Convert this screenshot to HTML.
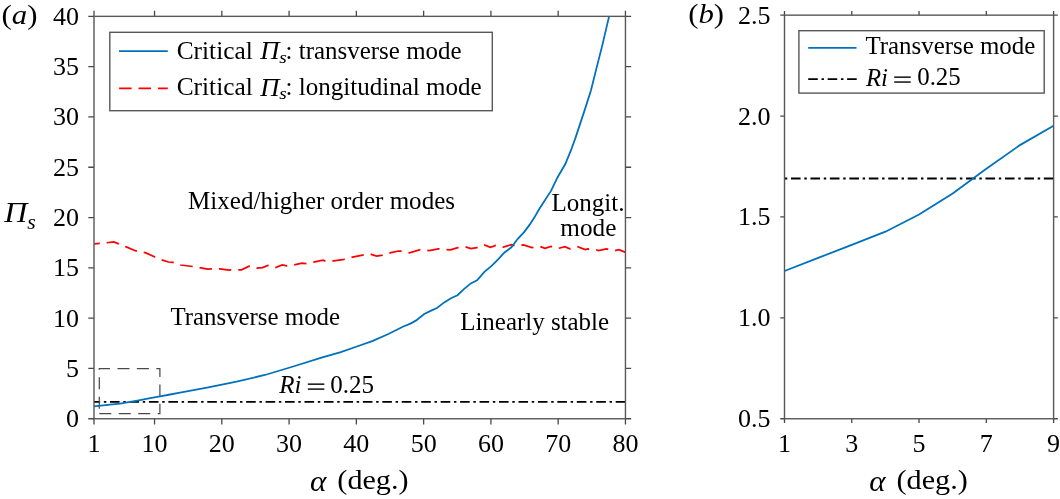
<!DOCTYPE html><html><head><meta charset="utf-8"><style>html,body{margin:0;padding:0;background:#fff;}svg{display:block;will-change:transform;}text{font-family:"Liberation Serif",serif;fill:#000;}</style></head><body>
<svg width="1060" height="499" viewBox="0 0 1060 499">
<rect width="1060" height="499" fill="#fff"/>
<clipPath id="ca"><rect x="94.0" y="16.35" width="531.45" height="402.4"/></clipPath>
<g clip-path="url(#ca)">
<line x1="94.0" y1="401.9" x2="625.45" y2="401.9" stroke="#000" stroke-width="1.85" stroke-dasharray="9.6 3.7 2.45 3.7" stroke-dashoffset="3.45"/>
<path d="M99.3,413.6 H159.9 V368.5 H99.3 Z" fill="none" stroke="#4a4a4a" stroke-width="1.25" stroke-dasharray="12 7.45"/>
<polyline points="94.20,243.90 100.60,243.40 113.80,242.00 118.70,243.90 126.20,246.90 135.30,250.70 145.80,252.90 154.90,257.00 162.50,260.20 168.50,262.00 173.00,262.40 180.60,265.00 192.60,266.50 207.70,269.10 219.80,268.80 228.90,270.00 241.50,269.90 249.10,266.10 256.60,268.00 262.60,267.60 267.90,265.50 275.50,267.60 282.30,265.00 286.80,265.80 294.30,264.80 301.90,263.10 306.40,263.50 313.60,262.20 323.00,260.20 324.50,260.90 333.60,260.80 344.20,259.30 352.50,257.20 363.80,254.90 371.30,254.40 376.60,256.20 382.60,255.20 391.00,252.60 398.50,251.00 401.30,251.00 409.60,252.90 420.20,249.60 429.20,250.70 438.30,248.80 450.40,249.90 457.90,247.60 465.50,246.90 470.80,248.70 476.80,247.60 484.30,244.90 490.40,247.30 495.70,245.40 503.20,247.20 511.50,244.60 515.30,245.80 523.60,244.90 531.90,247.60 540.20,246.60 545.00,248.40 551.00,246.40 558.20,248.40 564.90,246.60 569.70,248.80 577.50,246.60 585.30,249.60 587.70,249.00 595.50,249.60 598.50,250.50 606.30,249.00 614.10,250.80 618.90,249.60 625.60,252.40" fill="none" stroke="#ff0000" stroke-width="1.75" stroke-dasharray="12.5 6.95" stroke-dashoffset="6.9"/>
<polyline points="94.00,406.40 110.00,404.60 120.10,403.60 130.10,401.90 140.10,400.10 150.10,398.10 160.10,396.30 170.20,394.50 180.00,392.70 208.30,387.30 236.60,381.60 264.90,375.00 293.20,366.50 321.50,357.60 340.80,352.10 356.90,346.50 372.90,340.90 388.90,333.70 403.30,326.50 410.50,323.60 416.20,320.40 424.20,314.00 430.60,310.90 437.00,308.00 444.20,302.40 451.40,298.00 457.50,295.20 464.20,288.80 470.80,283.40 477.10,280.30 484.40,271.80 491.60,265.90 497.90,259.60 504.20,252.70 511.40,247.30 517.80,238.80 524.10,232.10 529.50,224.90 534.00,218.10 539.40,208.70 551.00,190.90 557.60,177.20 565.30,164.00 570.80,150.70 575.20,138.60 579.60,125.40 584.00,112.10 591.00,90.20 596.00,70.10 602.10,46.10 609.10,16.40" fill="none" stroke="#0072bd" stroke-width="1.8"/>
</g>
<path d="M88.3,418.75H94.0M625.45,418.75H631.1500000000001M88.3,368.45H94.0M625.45,368.45H631.1500000000001M88.3,318.15H94.0M625.45,318.15H631.1500000000001M88.3,267.85H94.0M625.45,267.85H631.1500000000001M88.3,217.55H94.0M625.45,217.55H631.1500000000001M88.3,167.25H94.0M625.45,167.25H631.1500000000001M88.3,116.95H94.0M625.45,116.95H631.1500000000001M88.3,66.65H94.0M625.45,66.65H631.1500000000001M88.3,16.35H94.0M625.45,16.35H631.1500000000001M94.00,418.75V424.45M94.00,10.650000000000002V16.35M154.54,418.75V424.45M154.54,10.650000000000002V16.35M221.82,418.75V424.45M221.82,10.650000000000002V16.35M289.09,418.75V424.45M289.09,10.650000000000002V16.35M356.36,418.75V424.45M356.36,10.650000000000002V16.35M423.63,418.75V424.45M423.63,10.650000000000002V16.35M490.91,418.75V424.45M490.91,10.650000000000002V16.35M558.18,418.75V424.45M558.18,10.650000000000002V16.35M625.45,418.75V424.45M625.45,10.650000000000002V16.35" stroke="#484848" stroke-width="1.3" fill="none"/>
<rect x="94.0" y="16.35" width="531.45" height="402.4" fill="none" stroke="#585858" stroke-width="1.4"/>
<rect x="109.8" y="32.3" width="382.5" height="78.4" fill="#fff" stroke="#585858" stroke-width="1.4"/>
<line x1="119" y1="51.1" x2="167.8" y2="51.1" stroke="#0072bd" stroke-width="1.8"/>
<line x1="119.1" y1="88.4" x2="167.8" y2="88.4" stroke="#ff0000" stroke-width="1.75" stroke-dasharray="12.5 6.95"/>
<clipPath id="cb"><rect x="784.5" y="15.15" width="269.0999999999999" height="403.6"/></clipPath>
<g clip-path="url(#cb)">
<line x1="784.5" y1="178.45" x2="1053.6" y2="178.45" stroke="#000" stroke-width="1.85" stroke-dasharray="9.6 3.7 2.45 3.7" stroke-dashoffset="12.95"/>
<polyline points="784.50,271.03 818.14,257.92 851.77,244.80 885.41,231.68 919.05,214.53 952.69,193.54 986.32,168.72 1019.96,145.11 1053.60,125.74" fill="none" stroke="#0072bd" stroke-width="1.8"/>
</g>
<path d="M780.3,418.75H784.5M1053.6,418.75H1057.8M780.3,317.85H784.5M1053.6,317.85H1057.8M780.3,216.95H784.5M1053.6,216.95H1057.8M780.3,116.05H784.5M1053.6,116.05H1057.8M780.3,15.15H784.5M1053.6,15.15H1057.8M784.50,418.75V422.95M784.50,10.95V15.15M851.77,418.75V422.95M851.77,10.95V15.15M919.05,418.75V422.95M919.05,10.95V15.15M986.32,418.75V422.95M986.32,10.95V15.15M1053.60,418.75V422.95M1053.60,10.95V15.15" stroke="#484848" stroke-width="1.3" fill="none"/>
<rect x="784.5" y="15.15" width="269.0999999999999" height="403.6" fill="none" stroke="#585858" stroke-width="1.4"/>
<rect x="798.9" y="30.7" width="245.3" height="62.4" fill="#fff" stroke="#585858" stroke-width="1.4"/>
<line x1="808.2" y1="47.8" x2="856.5" y2="47.8" stroke="#0072bd" stroke-width="1.8"/>
<line x1="808.2" y1="79.1" x2="856.7" y2="79.1" stroke="#000" stroke-width="1.85" stroke-dasharray="9.6 3.7 2.45 3.7"/>
<rect x="307.80" y="383.45" width="16.5" height="1.4" fill="#000"/>
<rect x="307.80" y="388.40" width="16.5" height="1.4" fill="#000"/>
<rect x="894.20" y="76.45" width="16.5" height="1.4" fill="#000"/>
<rect x="894.20" y="81.35" width="16.5" height="1.4" fill="#000"/>
<text x="1.63" y="24.27" font-size="27" textLength="35.89" lengthAdjust="spacingAndGlyphs">(<tspan font-style="italic">a</tspan>)</text>
<text x="688.15" y="23.40" font-size="27" textLength="35.87" lengthAdjust="spacingAndGlyphs">(<tspan font-style="italic">b</tspan>)</text>
<text x="4.18" y="221.50" font-size="30" textLength="22.99" lengthAdjust="spacingAndGlyphs"><tspan font-style="italic">Π</tspan></text>
<text x="27.17" y="228.50" font-size="20" textLength="8.46" lengthAdjust="spacingAndGlyphs"><tspan font-style="italic">s</tspan></text>
<text x="176.73" y="58.50" font-size="25" textLength="75.98" lengthAdjust="spacingAndGlyphs">Critical</text>
<text x="176.73" y="94.50" font-size="25" textLength="75.98" lengthAdjust="spacingAndGlyphs">Critical</text>
<text x="260.26" y="58.90" font-size="25" textLength="19.16" lengthAdjust="spacingAndGlyphs"><tspan font-style="italic">Π</tspan></text>
<text x="260.26" y="95.90" font-size="25" textLength="19.16" lengthAdjust="spacingAndGlyphs"><tspan font-style="italic">Π</tspan></text>
<text x="279.31" y="63.19" font-size="17" textLength="7.52" lengthAdjust="spacingAndGlyphs"><tspan font-style="italic">s</tspan></text>
<text x="279.31" y="99.19" font-size="17" textLength="7.52" lengthAdjust="spacingAndGlyphs"><tspan font-style="italic">s</tspan></text>
<text x="285.58" y="59.48" font-size="25" textLength="176.01" lengthAdjust="spacingAndGlyphs">: transverse mode</text>
<text x="285.47" y="94.50" font-size="25" textLength="196.24" lengthAdjust="spacingAndGlyphs">: longitudinal mode</text>
<text x="188.09" y="208.50" font-size="25" textLength="266.92" lengthAdjust="spacingAndGlyphs">Mixed/higher order modes</text>
<text x="551.38" y="210.50" font-size="25" textLength="73.04" lengthAdjust="spacingAndGlyphs">Longit.</text>
<text x="560.35" y="235.95" font-size="25" textLength="56.02" lengthAdjust="spacingAndGlyphs">mode</text>
<text x="170.40" y="324.60" font-size="25" textLength="169.66" lengthAdjust="spacingAndGlyphs">Transverse mode</text>
<text x="460.18" y="329.80" font-size="25" textLength="148.92" lengthAdjust="spacingAndGlyphs">Linearly stable</text>
<text x="865.43" y="53.70" font-size="25" textLength="169.85" lengthAdjust="spacingAndGlyphs">Transverse mode</text>
<text x="279.23" y="393.20" font-size="25" textLength="22.20" lengthAdjust="spacingAndGlyphs"><tspan font-style="italic">Ri</tspan></text>
<text x="330.17" y="392.90" font-size="25" textLength="43.85" lengthAdjust="spacingAndGlyphs">0.25</text>
<text x="865.94" y="86.30" font-size="25" textLength="22.01" lengthAdjust="spacingAndGlyphs"><tspan font-style="italic">Ri</tspan></text>
<text x="917.21" y="85.00" font-size="25" textLength="43.56" lengthAdjust="spacingAndGlyphs">0.25</text>
<text x="309.95" y="491.30" font-size="28.5" textLength="16.46" lengthAdjust="spacingAndGlyphs"><tspan font-style="italic">α</tspan></text>
<text x="337.39" y="489.38" font-size="28" textLength="71.11" lengthAdjust="spacingAndGlyphs">(deg.)</text>
<text x="869.35" y="491.30" font-size="28.5" textLength="16.31" lengthAdjust="spacingAndGlyphs"><tspan font-style="italic">α</tspan></text>
<text x="896.48" y="489.43" font-size="28" textLength="71.31" lengthAdjust="spacingAndGlyphs">(deg.)</text>
<text x="78.9" y="427.25" font-size="26" text-anchor="end">0</text>
<text x="78.9" y="376.95" font-size="26" text-anchor="end">5</text>
<text x="78.9" y="326.65" font-size="26" text-anchor="end">10</text>
<text x="78.9" y="276.35" font-size="26" text-anchor="end">15</text>
<text x="78.9" y="226.05" font-size="26" text-anchor="end">20</text>
<text x="78.9" y="175.75" font-size="26" text-anchor="end">25</text>
<text x="78.9" y="125.45" font-size="26" text-anchor="end">30</text>
<text x="78.9" y="75.15" font-size="26" text-anchor="end">35</text>
<text x="78.9" y="24.85" font-size="26" text-anchor="end">40</text>
<text x="94.00" y="451.5" font-size="26" text-anchor="middle">1</text>
<text x="154.54" y="451.5" font-size="26" text-anchor="middle">10</text>
<text x="221.82" y="451.5" font-size="26" text-anchor="middle">20</text>
<text x="289.09" y="451.5" font-size="26" text-anchor="middle">30</text>
<text x="356.36" y="451.5" font-size="26" text-anchor="middle">40</text>
<text x="423.63" y="451.5" font-size="26" text-anchor="middle">50</text>
<text x="490.91" y="451.5" font-size="26" text-anchor="middle">60</text>
<text x="558.18" y="451.5" font-size="26" text-anchor="middle">70</text>
<text x="625.45" y="451.5" font-size="26" text-anchor="middle">80</text>
<text x="770.6" y="427.25" font-size="26" text-anchor="end">0.5</text>
<text x="770.6" y="326.35" font-size="26" text-anchor="end">1.0</text>
<text x="770.6" y="225.45" font-size="26" text-anchor="end">1.5</text>
<text x="770.6" y="124.55" font-size="26" text-anchor="end">2.0</text>
<text x="770.6" y="23.65" font-size="26" text-anchor="end">2.5</text>
<text x="784.50" y="451.5" font-size="26" text-anchor="middle">1</text>
<text x="851.77" y="451.5" font-size="26" text-anchor="middle">3</text>
<text x="919.05" y="451.5" font-size="26" text-anchor="middle">5</text>
<text x="986.32" y="451.5" font-size="26" text-anchor="middle">7</text>
<text x="1053.60" y="451.5" font-size="26" text-anchor="middle">9</text>
</svg></body></html>
